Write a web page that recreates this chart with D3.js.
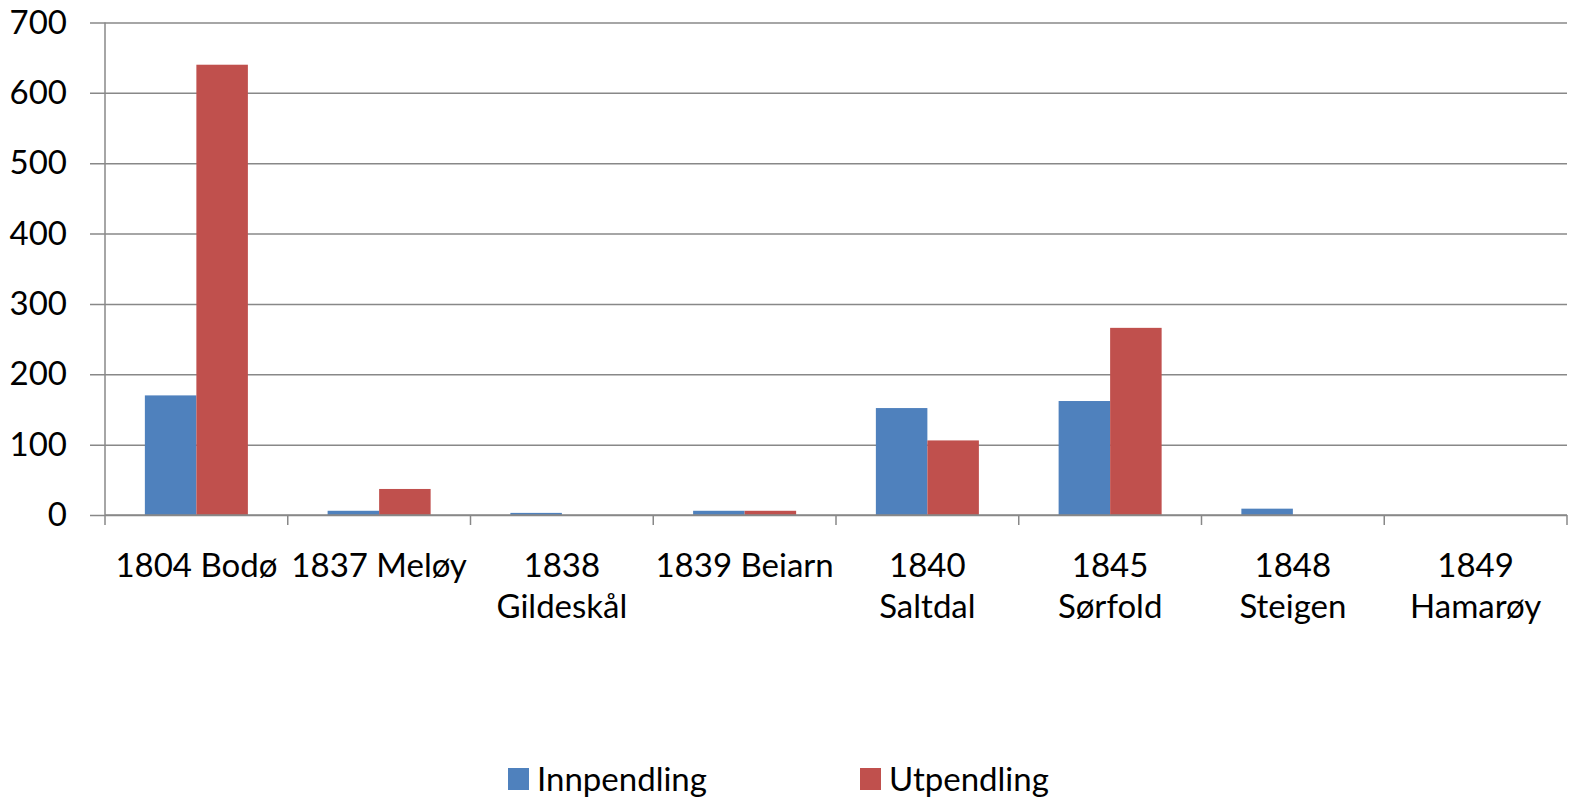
<!DOCTYPE html>
<html>
<head>
<meta charset="utf-8">
<script src="https://cdn.jsdelivr.net/npm/d3@7"></script>
<style>
  html, body { margin: 0; padding: 0; background: #fff; }
  svg { display: block; font-family: Lato, 'Open Sans', sans-serif; }
</style>
</head>
<body>
<svg id="chart" width="1569" height="801"></svg>
<script>
const categories = [
  ["1804 Bodø"], ["1837 Meløy"], ["1838", "Gildeskål"], ["1839 Beiarn"],
  ["1840", "Saltdal"], ["1845", "Sørfold"], ["1848", "Steigen"], ["1849", "Hamarøy"]
];
const seriesNames = ["Innpendling", "Utpendling"];
const innpendling = [170, 6, 3, 6, 152, 162, 9, 0];
const utpendling = [640, 37, 0, 6, 106, 266, 0, 0];
const yTicks = [0, 100, 200, 300, 400, 500, 600, 700];
const colors = ["#4F81BD", "#C0504D"];

const svg = d3.select("#chart");
const mLeft = 105, mRight = 1567, mTop = 22.5, mBottom = 515;
const fontSize = 33;
const fontFam = "Lato, 'Open Sans', sans-serif";

const y = d3.scaleLinear().domain([0, 700]).range([mBottom, mTop]);
const x0 = d3.scaleBand().domain(d3.range(categories.length)).range([mLeft, mRight]).padding(0);
const x1 = d3.scaleBand().domain(seriesNames).range([0, x0.bandwidth()]).paddingInner(0).paddingOuter(0.774);

// gridlines + y axis ticks
const yAxis = d3.axisLeft(y).tickValues(yTicks).tickSize(mRight - mLeft + 15).tickPadding(22).tickFormat(d3.format("d"));
const gy = svg.append("g").attr("transform", `translate(${mRight},0)`).call(yAxis);
gy.select(".domain").remove();
gy.selectAll(".tick line").attr("stroke", "#888").attr("stroke-width", 1.5);
gy.selectAll(".tick text").attr("font-size", fontSize).attr("fill", "#000")
  .attr("font-family", fontFam)
  .attr("x", -(mRight - mLeft + 15) - 23);

// y axis line
svg.append("line").attr("x1", mLeft).attr("x2", mLeft).attr("y1", mTop).attr("y2", mBottom)
  .attr("stroke", "#888").attr("stroke-width", 1.5);

// bars
const data = categories.map((c, i) => ({ i, values: [innpendling[i], utpendling[i]] }));
const groups = svg.append("g").selectAll("g").data(data).join("g")
  .attr("transform", d => `translate(${x0(d.i)},0)`);
groups.selectAll("rect").data(d => d.values.map((v, k) => ({ k, v }))).join("rect")
  .attr("x", d => x1(seriesNames[d.k]))
  .attr("width", x1.bandwidth())
  .attr("y", d => y(d.v))
  .attr("height", d => y(0) - y(d.v))
  .attr("fill", d => colors[d.k]);

// x axis
const xTickPositions = d3.range(categories.length + 1).map(i => mLeft + i * x0.step());
svg.append("line").attr("x1", mLeft).attr("x2", mRight).attr("y1", y(0)).attr("y2", y(0))
  .attr("stroke", "#888").attr("stroke-width", 1.5);
svg.append("g").selectAll("line").data(xTickPositions).join("line")
  .attr("x1", d => d).attr("x2", d => d).attr("y1", y(0)).attr("y2", y(0) + 10)
  .attr("stroke", "#888").attr("stroke-width", 1.5);

const xl = svg.append("g").selectAll("text").data(categories).join("text")
  .attr("text-anchor", "middle")
  .attr("font-size", fontSize)
  .attr("font-family", fontFam)
  .attr("fill", "#000")
  .attr("transform", (d, i) => `translate(${x0(i) + x0.bandwidth() / 2},577)`);
xl.selectAll("tspan").data(d => d).join("tspan")
  .attr("x", 0).attr("y", (d, j) => j * 41).text(d => d);

// legend
const legendItems = [{ name: seriesNames[0], x: 508 }, { name: seriesNames[1], x: 860 }];
const lg = svg.append("g").selectAll("g").data(legendItems).join("g")
  .attr("transform", d => `translate(${d.x},0)`);
lg.append("rect").attr("x", 0).attr("y", 768).attr("width", 21).attr("height", 22)
  .attr("fill", (d, i) => colors[i]);
lg.append("text").attr("x", 29).attr("y", 791).attr("font-size", fontSize).attr("font-family", fontFam)
  .attr("fill", "#000")
  .text(d => d.name);
</script>
</body>
</html>
